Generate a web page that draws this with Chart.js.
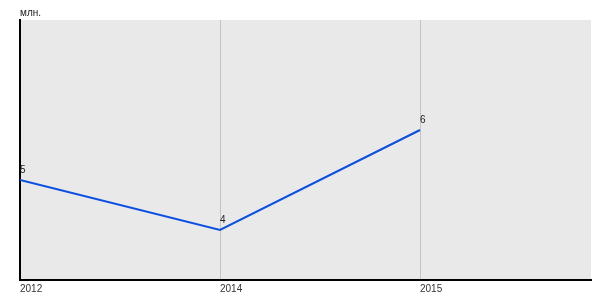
<!DOCTYPE html>
<html>
<head>
<meta charset="utf-8">
<script src="https://cdn.jsdelivr.net/npm/chart.js@4/dist/chart.umd.min.js"></script>
<style>
  html, body { margin: 0; padding: 0; background: #fff; }
  #wrap { width: 600px; height: 300px; }
</style>
</head>
<body>
<div id="wrap"><canvas id="chart"></canvas></div>
<script>
const years = ['2012', '2014', '2015'];
const values = [5, 4, 6];
const unitLabel = 'млн.';

// Gray plot background, unit caption and point value labels
const decor = {
    id: 'decor',
    beforeDraw(chart) {
        const ctx = chart.ctx;
        const a = chart.chartArea;
        ctx.save();
        ctx.fillStyle = '#e9e9e9';
        ctx.fillRect(a.left, a.top, a.right - a.left, a.bottom - a.top);
        ctx.restore();
    },
    afterDatasetsDraw(chart) {
        const ctx = chart.ctx;
        const a = chart.chartArea;
        ctx.save();
        ctx.font = '10px "Liberation Sans", Arial, sans-serif';
        ctx.fillStyle = '#222';
        ctx.textAlign = 'left';
        ctx.textBaseline = 'alphabetic';
        ctx.fillText(unitLabel, a.left, a.top - 4);
        const meta = chart.getDatasetMeta(0);
        meta.data.forEach((pt, i) => {
            ctx.fillText(String(values[i]), pt.x, pt.y - 7);
        });
        ctx.restore();
    }
};

new Chart(document.getElementById('chart'), {
    type: 'line',
    data: {
        datasets: [{
            data: values.map((v, i) => ({ x: i, y: v })),
            borderColor: '#0a4fe3',
            borderWidth: 2,
            pointRadius: 0,
            pointHoverRadius: 0,
            tension: 0,
            fill: false
        }]
    },
    options: {
        responsive: true,
        maintainAspectRatio: false,
        animation: false,
        events: [],
        layout: { padding: { top: 20, right: 9, left: 0, bottom: 0 } },
        plugins: { legend: { display: false }, tooltip: { enabled: false } },
        scales: {
            x: {
                type: 'linear',
                min: 0,
                max: 2.855,
                afterBuildTicks: s => { s.ticks = years.map((y, i) => ({ value: i })); },
                afterFit: s => { s.height = 20; },
                ticks: {
                    align: 'start',
                    padding: 3,
                    color: '#333',
                    font: { family: '"Liberation Sans", Arial, sans-serif', size: 10 },
                    callback: v => years[v]
                },
                grid: {
                    drawTicks: false,
                    color: ctx => (ctx.index === 0 ? 'rgba(0,0,0,0)' : '#c4c4c4'),
                    lineWidth: 1
                },
                border: { display: true, color: '#000', width: 2 }
            },
            y: {
                min: 3,
                max: 8.2,
                afterFit: s => { s.width = 20; },
                ticks: { display: false },
                grid: { display: false, drawTicks: false },
                border: { display: true, color: '#000', width: 2 }
            }
        }
    },
    plugins: [decor]
});
</script>
</body>
</html>
